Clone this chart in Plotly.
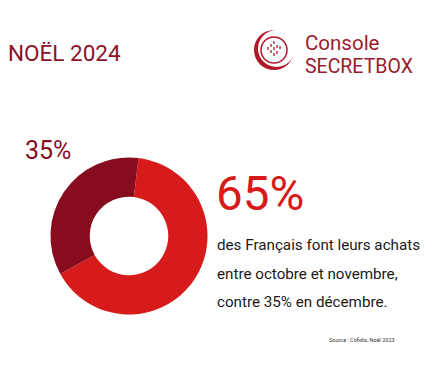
import plotly.graph_objects as go

labels = ["octobre-novembre", "décembre"]
values = [65, 35]
colors = ["#D71A1A", "#870D1E"]
title_text = "NOËL 2024"
big_pct = "65%"
small_pct = "35%"
body_lines = ["des Français font leurs achats", "entre octobre et novembre,", "contre 35% en décembre."]
source_text = "Source : Cofidis, Noël 2023"
brand_lines = ["Console", "SECRETBOX"]

# page body has an 8px margin; the figure is placed at (8, 8)
OFF = 8
W, H = 432, 364
FONT = "Roboto, Liberation Sans, sans-serif"

def px(x):
    return (x - OFF) / W

def py(y):
    return 1 - (y - OFF) / H

fig = go.Figure()
cx, cy, r = 129, 236, 78.5
fig.add_trace(go.Pie(
    labels=labels, values=values, hole=0.5, sort=False, direction="clockwise",
    rotation=7, marker=dict(colors=colors, line=dict(width=0)),
    textinfo="none", hoverinfo="label+percent", showlegend=False,
    domain=dict(x=[px(cx - r), px(cx + r)], y=[py(cy + r), py(cy - r)]),
))

ann = []
def add(text, x, y, size, color, xanchor="left", yanchor="middle", align="left"):
    ann.append(dict(text=text, x=px(x), y=py(y), xref="paper", yref="paper",
                    xanchor=xanchor, yanchor=yanchor, showarrow=False, align=align,
                    font=dict(family=FONT, size=size, color=color)))

add(title_text, 6, 53, 22.5, "#8B1328")
add(small_pct, 23, 151, 25, "#870D1E")
add(big_pct, 214, 194, 47.5, "#D71A1A")
for i, line in enumerate(body_lines):
    add(line, 215, 245 + i * 28.5, 15.2, "#1a1a1a")
add(source_text, 327, 340, 5.5, "#333333")
add(brand_lines[0], 303, 43, 20.5, "#9B1B30")
add(brand_lines[1], 303, 67, 19.5, "#9B1B30")

shapes = []
lc = "#B0172B"
shapes.append(dict(type="circle", xref="paper", yref="paper",
                   x0=px(254), x1=px(294), y0=py(70), y1=py(30),
                   fillcolor="#B0172B", line=dict(width=0)))
shapes.append(dict(type="circle", xref="paper", yref="paper",
                   x0=px(258), x1=px(295), y0=py(67), y1=py(30),
                   fillcolor="white", line=dict(width=0)))
shapes.append(dict(type="circle", xref="paper", yref="paper",
                   x0=px(261), x1=px(287), y0=py(63), y1=py(37),
                   fillcolor="rgba(0,0,0,0)", line=dict(width=1.5, color=lc)))
bars = [(268, 47, 53), (271, 44, 55), (274, 41, 58), (277, 45, 54), (280, 46, 52)]
for bx, y0, y1 in bars:
    shapes.append(dict(type="line", xref="paper", yref="paper",
                       x0=px(bx), x1=px(bx), y0=py(y0), y1=py(y1),
                       line=dict(width=1.3, color=lc, dash="dot")))

fig.update_layout(
    width=W, height=H, margin=dict(l=0, r=0, t=0, b=0),
    paper_bgcolor="white", plot_bgcolor="white",
    annotations=ann, shapes=shapes,
)
fig.write_html("out.html")
